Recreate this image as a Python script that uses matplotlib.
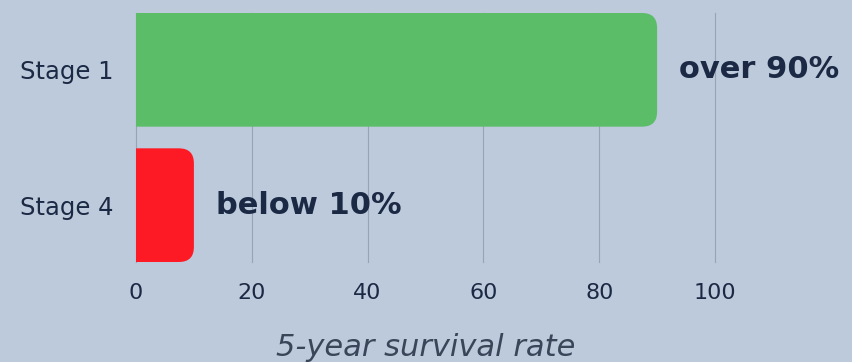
import numpy as np
import matplotlib.pyplot as plt
from matplotlib.path import Path
from matplotlib.patches import PathPatch

# 5-year survival by stage
stages = ['Stage 1', 'Stage 4']
survival = [90, 10]
value_labels = ['over 90%', 'below 10%']
bar_colors = ['#5cbd69', '#fe1a24']
x_ticks = [0, 20, 40, 60, 80, 100]

bg = '#bccadb'
text_dark = '#1c2944'

plt.rcParams['font.family'] = ['DejaVu Sans']


def rounded_bar(ax, y, width, height, color, r_px=15):
    """Horizontal bar with square left end and rounded right corners."""
    # convert the corner radius from pixels to data units on each axis
    inv = ax.transData.inverted()
    p0 = inv.transform(ax.transData.transform((0, 0)))
    p1 = inv.transform(ax.transData.transform((0, 0)) + np.array([r_px, r_px]))
    rx, ry = abs(p1[0] - p0[0]), abs(p1[1] - p0[1])
    rx = min(rx, width / 2)
    y0, y1 = y - height / 2, y + height / 2
    verts = [(0, y0), (width - rx, y0), (width, y0), (width, y0 + ry),
             (width, y1 - ry), (width, y1), (width - rx, y1), (0, y1), (0, y0)]
    codes = [Path.MOVETO, Path.LINETO, Path.CURVE3, Path.CURVE3,
             Path.LINETO, Path.CURVE3, Path.CURVE3, Path.LINETO, Path.CLOSEPOLY]
    ax.add_patch(PathPatch(Path(verts, codes), facecolor=color,
                           edgecolor='none', zorder=3))


fig = plt.figure(figsize=(8.53, 3.62), dpi=100)
fig.patch.set_facecolor(bg)
ax = fig.add_axes([136 / 853, 1 - 262 / 362, 579 / 853, 249 / 362])
ax.set_facecolor(bg)

ax.set_xlim(0, 100)
ax.set_ylim(-0.42, 1.42)

ypos = np.arange(len(stages))[::-1]
for y, v, c in zip(ypos, survival, bar_colors):
    rounded_bar(ax, y, v, 0.84, c)
for y, v, lab in zip(ypos, survival, value_labels):
    ax.text(v + 3.8, y, lab, ha='left', va='center', fontsize=22,
            fontweight='bold', color=text_dark, clip_on=False, zorder=4)

ax.set_yticks(ypos)
ax.set_yticklabels(stages)
ax.set_xticks(x_ticks)
ax.tick_params(axis='both', length=0, colors=text_dark)
ax.tick_params(axis='y', pad=16, labelsize=17.5)
ax.tick_params(axis='x', pad=15, labelsize=16)

ax.grid(axis='x', color='#98a4b5', linewidth=0.8)
for gl in ax.get_xgridlines():
    gl.set_clip_on(False)
ax.set_axisbelow(True)
for s in ax.spines.values():
    s.set_visible(False)

ax.set_xlabel('5-year survival rate', fontsize=22, style='italic',
              color='#3a4559', labelpad=22)

fig.savefig('out.png', dpi=100, facecolor=bg)
